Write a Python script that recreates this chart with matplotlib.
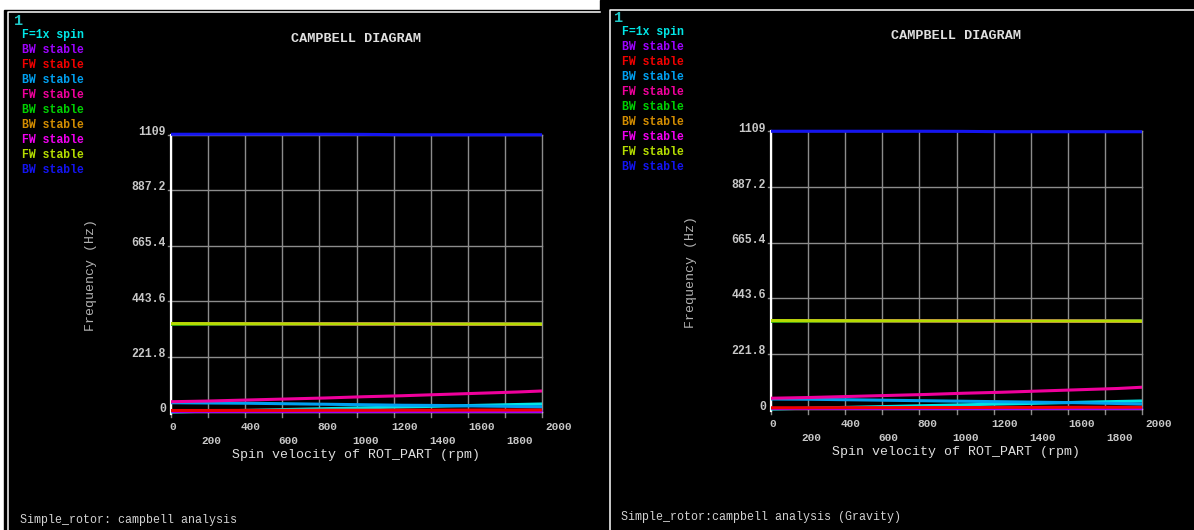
import matplotlib.pyplot as plt
from matplotlib.patches import Rectangle
from matplotlib.transforms import offset_copy

W, H = 1194, 530
FONT = "Liberation Mono"

# spin speed samples (rpm)
spin = [0, 200, 400, 600, 800, 1000, 1200, 1400, 1600, 1800, 1925]

legend_names = ["F=1x spin", "BW stable", "FW stable", "BW stable", "FW stable",
                "BW stable", "BW stable", "FW stable", "FW stable", "BW stable"]
legend_colors = ["#00e6e6", "#a000ff", "#f00000", "#00a0f0", "#f0009c",
                 "#00d200", "#d28c00", "#f000f0", "#b4dc00", "#1414f0"]

y_ticks = [0, 221.8, 443.6, 665.4, 887.2, 1109]
y_tick_labels = ["0", "221.8", "443.6", "665.4", "887.2", "1109"]
x_tick_labels = [0, 200, 400, 600, 800, 1000, 1200, 1400, 1600, 1800, 2000]

# frequencies (Hz), one list per mode, left = without gravity
f_1x = [0, 3.3, 6.7, 10, 13.3, 16.7, 20, 23.3, 26.7, 30, 32.1]
l_bw2 = [3, 3, 3, 3, 3, 3, 3, 3, 3, 3, 3]
l_fw3 = [6, 6, 6.5, 6.5, 7, 7, 7.5, 7.5, 8, 8, 8.5]
l_bw4 = [37, 36, 35, 33, 31, 29, 27, 26, 24, 22, 21]
l_fw5 = [41, 44, 48, 52, 56, 61, 65, 70, 75, 80, 84]
l_bw6 = [350.5, 351, 351.2, 351.5, 351.8, 352, 352.3, 352.6, 352.9, 353.2, 353.5]
l_bw7 = [353.5, 353.2, 352.9, 352.6, 352.3, 352, 351.8, 351.5, 351.2, 351, 350.5]
l_fw8 = [353.5, 353.2, 352.9, 352.6, 352.3, 352, 351.8, 351.5, 351.2, 351, 350.5]
l_fw9 = [353.5, 353.2, 352.9, 352.6, 352.3, 352, 351.8, 351.5, 351.2, 351, 350.5]
l_bw10 = [1110, 1110, 1110, 1110, 1110, 1109.5, 1108, 1108, 1108, 1108, 1108]

# right = with gravity
r_bw2 = [3, 3, 3, 3, 3, 3, 3, 3, 3, 3, 3]
r_fw3 = [5, 5, 5.5, 5.5, 6, 6, 6.5, 6.5, 7, 7, 7.5]
r_bw4 = [40, 39, 37, 35, 33, 31, 29, 27, 25, 22, 20]
r_fw5 = [43, 46, 50, 54, 58, 63, 67, 72, 77, 82, 87]
r_bw6 = [350.5, 351, 351.2, 351.5, 351.8, 352, 352.3, 352.6, 352.9, 353.2, 353.5]
r_bw7 = [353.5, 353.2, 352.9, 352.6, 352.3, 352, 351.8, 351.5, 351.2, 351, 350.5]
r_fw8 = [353.5, 353.2, 352.9, 352.6, 352.3, 352, 351.8, 351.5, 351.2, 351, 350.5]
r_fw9 = [353.5, 353.2, 352.9, 352.6, 352.3, 352, 351.8, 351.5, 351.2, 351, 350.5]
r_bw10 = [1110, 1110, 1110, 1110, 1110, 1109.5, 1108, 1108, 1108, 1108, 1108]

left_modes = [f_1x, l_bw2, l_fw3, l_bw4, l_fw5, l_bw6, l_bw7, l_fw8, l_fw9, l_bw10]
right_modes = [f_1x, r_bw2, r_fw3, r_bw4, r_fw5, r_bw6, r_bw7, r_fw8, r_fw9, r_bw10]

fig = plt.figure(figsize=(W / 100, H / 100), dpi=100, facecolor="white")

# background in pixel coordinates
bg = fig.add_axes([0, 0, 1, 1])
bg.set_xlim(0, W)
bg.set_ylim(H, 0)
bg.axis("off")
bg.add_patch(Rectangle((4, 10), 596, 520, color="black"))
bg.add_patch(Rectangle((600, 0), 594, 530, color="black"))
bg.plot([7.5, 7.5, 600], [530, 12, 12], color="white", lw=1.1)
bg.plot([609.5, 609.5, 1194], [530, 9.5, 9.5], color="white", lw=1.1)


def panel(dx, dy, modes, caption, cap_xy, legend_y0):
    x0 = 171 + dx
    y_zero = 412 + dy
    y_top = 134.5 + dy
    ax = fig.add_axes([x0 / W, (H - y_zero) / H, 371 / W, (y_zero - y_top) / H])
    ax.set_xlim(0, 1925)
    ax.set_ylim(0, 1109)
    ax.axis("off")

    # grid
    for i in range(11):
        gx = 1925 * i / 10
        ax.plot([gx, gx], [-20, 1109], color="#8c8c8c", lw=1.0, clip_on=False)
    for v in y_ticks[1:]:
        ax.plot([-15, 1925], [v, v], color="#8c8c8c", lw=1.0, clip_on=False)
    ax.plot([0, 1925], [0, 0], color="white", lw=1.0, clip_on=False)
    ax.plot([0, 0], [-8, 1109], color="white", lw=1.6, clip_on=False)

    for f, c in zip(modes, legend_colors):
        ax.plot(spin, f, color=c, lw=2.2, clip_on=False, solid_capstyle="butt")

    # tick labels
    ytr = offset_copy(ax.transData, fig=fig, x=-5, y=2.5, units="dots")
    for v, lab in zip(y_ticks, y_tick_labels):
        ax.text(0, v, lab, transform=ytr, ha="right", va="center",
                family=FONT, fontsize=8.3, weight="bold", color="#c8c8c8")
    for k, v in enumerate(x_tick_labels):
        off = -15 if k % 2 == 0 else -29
        xtr = offset_copy(ax.transData, fig=fig, x=2, y=off, units="dots")
        ax.text(v, 0, str(v), transform=xtr, ha="center", va="center",
                family=FONT, fontsize=8.0, weight="bold", color="#c8c8c8")

    # titles and labels
    bg.text(356 + dx, 39 + dy, "CAMPBELL DIAGRAM", ha="center", va="center",
            family=FONT, fontsize=9.7, weight="bold", color="#e0e0e0")
    bg.text(356 + dx, 455 + dy, "Spin velocity of ROT_PART (rpm)", ha="center",
            va="center", family=FONT, fontsize=9.5, color="#e0e0e0")
    bg.text(91 + dx, 275 + dy, "Frequency (Hz)", ha="center", va="center",
            rotation=90, family=FONT, fontsize=9.5, color="#b4b4b4")

    # legend
    bg.text(14 + dx, 21 + dy, "1", ha="left", va="center", family=FONT,
            fontsize=11, weight="bold", color="#20c8c8")
    for i, (name, c) in enumerate(zip(legend_names, legend_colors)):
        bg.text(22 + dx, legend_y0 + 15 * i, name, ha="left", va="center",
                family=FONT, fontsize=8.3, weight="bold", color=c)

    bg.text(cap_xy[0], cap_xy[1], caption, ha="left", va="center",
            family=FONT, fontsize=8.4, color="#d2d2d2")


panel(0, 0, left_modes, "Simple_rotor: campbell analysis", (20, 520), 35)
panel(600, -3, right_modes, "Simple_rotor:campbell analysis (Gravity)", (621, 517), 32)

fig.savefig("out.png", dpi=100, facecolor="white")
